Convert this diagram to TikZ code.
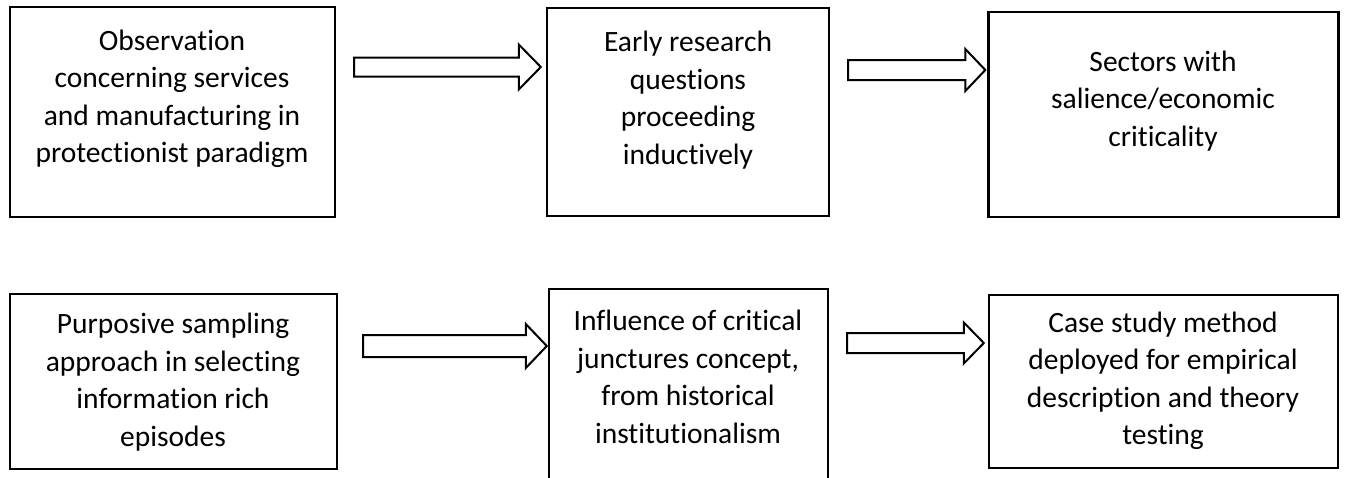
\documentclass[tikz,border=0pt]{standalone}
\usepackage{fontspec}
\setmainfont{Carlito}[Ligatures={NoCommon,NoRequired,NoContextual}]
\usetikzlibrary{calc}

\tikzset{
  box/.style={draw=black, line width=2.4pt, fill=white, inner sep=0pt},
  boxtext/.style={align=center, inner sep=0pt,
    font=\fontsize{29.5}{37.5}\selectfont},
  blockarrow/.style={draw=black, line width=2pt, fill=white, line join=miter}
}

% block arrow: from point #1 to tip #2, shaft half width #3, head half width #4, head length #5
\newcommand\fatarrow[5]{%
  \draw[blockarrow]
    let \p1=#1, \p2=#2 in
    (\x1,\y1-#3) -- (\x2-#5,\y1-#3) -- (\x2-#5,\y1-#4) -- (\x2,\y2)
    -- (\x2-#5,\y1+#4) -- (\x2-#5,\y1+#3) -- (\x1,\y1+#3) -- cycle;%
}

\begin{document}
\begin{tikzpicture}[x=1pt,y=-1pt]
\useasboundingbox (0,0) rectangle (1346,477);

% top row
\node[box, minimum width=325pt, minimum height=210pt] (b1) at (172.5,112) {};
\node[box, minimum width=282pt, minimum height=208pt] (b2) at (688,112) {};
\node[box, minimum width=350pt, minimum height=205pt] (b3) at (1163.5,114.5) {};

% bottom row
\node[box, minimum width=327pt, minimum height=175pt] (b4) at (173.5,381.5) {};
\node[box, minimum width=279pt, minimum height=200pt] (b5) at (688.5,389) {};
\node[box, minimum width=349pt, minimum height=173pt] (b6) at (1163.5,381.5) {};

% box texts
\node[boxtext] (t1) at (172,99) {Observation\\concerning services\\and manufacturing in\\protectionist paradigm};
\node[boxtext] (t2) at (688,100) {Early research\\questions\\proceeding\\inductively};
\node[boxtext] (t3) at (1163,101) {Sectors with\\salience/economic\\criticality};
\node[boxtext] (t4) at (173,382) {Purposive sampling\\approach in selecting\\information rich\\episodes};
\node[boxtext] (t5) at (688,377) {Influence of critical\\junctures concept,\\from historical\\institutionalism};
\node[boxtext] (t6) at (1163,381) {Case study method\\deployed for empirical\\description and theory\\testing};

% arrow end points between boxes
\coordinate (a1s) at ($(b1.east |- 0,67)+(18,0)$);
\coordinate (a1e) at ($(b2.west |- 0,67)+(-5,0)$);
\coordinate (a2s) at ($(b2.east |- 0,70)+(18,0)$);
\coordinate (a2e) at ($(b3.west |- 0,70)+(-2,0)$);
\coordinate (a3s) at ($(b4.east |- 0,346)+(25,0)$);
\coordinate (a3e) at ($(b5.west |- 0,346)+(-1,0)$);
\coordinate (a4s) at ($(b5.east |- 0,343)+(18,0)$);
\coordinate (a4e) at ($(b6.west |- 0,343)+(-4,0)$);

\fatarrow{(a1s)}{(a1e)}{9.5}{22.5}{22}
\fatarrow{(a2s)}{(a2e)}{10}{21}{20}
\fatarrow{(a3s)}{(a3e)}{11}{22}{21}
\fatarrow{(a4s)}{(a4e)}{10}{20.5}{20}
\end{tikzpicture}
\end{document}
